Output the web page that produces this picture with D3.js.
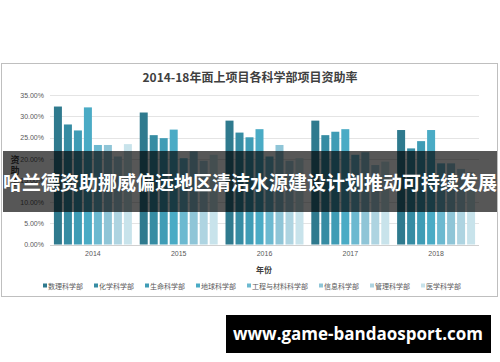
<!DOCTYPE html>
<html>
<head>
<meta charset="utf-8">
<script src="https://cdn.jsdelivr.net/npm/d3@7"></script>
<style>
  html, body { margin: 0; padding: 0; background: #fff; }
  svg { display: block; }
</style>
</head>
<body>
<div id="chart"></div>
<script>
// data (percent)
var years = ["2014", "2015", "2016", "2017", "2018"];
var depts = ["数理科学部", "化学科学部", "生命科学部", "地球科学部", "工程与材料科学部", "信息科学部", "管理科学部", "医学科学部"];
var mathPhys = [32.3, 30.9, 29.0, 29.0, 26.8];
var chem = [28.1, 25.6, 26.2, 25.6, 22.5];
var life = [26.7, 24.9, 25.1, 26.4, 24.2];
var earth = [32.1, 26.9, 27.0, 27.0, 26.8];
var engMat = [23.3, 20.2, 20.6, 21.0, 19.0];
var info = [23.3, 21.8, 23.3, 21.6, 19.0];
var mgmt = [20.6, 19.6, 19.6, 18.6, 17.7];
var med = [23.5, 21.0, 20.2, 19.4, 16.9];
var yTicks = [0, 5, 10, 15, 20, 25, 30, 35];
var colors = ["#2f7a8e", "#368ca3", "#3f9cb5", "#4aabc5", "#6cb9d0", "#8fc5d7", "#aed4e1", "#c8e3eb"];

(function () {
  "use strict";
  var seriesVals = [mathPhys, chem, life, earth, engMat, info, mgmt, med];

  var W = 500, H = 362;
  var svg = d3.select("#chart").append("svg")
    .attr("width", W)
    .attr("height", H);

  var cjk = "'Noto Sans CJK SC', 'Noto Sans', sans-serif";

  // chart frame
  svg.append("rect")
    .attr("x", 1.5).attr("y", 63.5)
    .attr("width", 496).attr("height", 233)
    .attr("fill", "#fff")
    .attr("stroke", "#bfbfbf")
    .attr("stroke-width", 1);

  svg.append("text")
    .attr("x", 250).attr("y", 81.5)
    .attr("text-anchor", "middle")
    .attr("font-family", cjk)
    .attr("font-weight", "bold")
    .attr("font-size", "12px")
    .attr("fill", "#404040")
    .text("2014-18年面上项目各科学部项目资助率");

  var plotLeft = 50, plotRight = 479, plotTop = 95, plotBottom = 244.5;

  var y = d3.scaleLinear().domain([0, 35]).range([plotBottom, plotTop]);
  var x0 = d3.scaleBand().domain(years).range([plotLeft, plotRight]).paddingInner(0.068).paddingOuter(0.034);
  var x1 = d3.scaleBand().domain(depts).range([0, x0.bandwidth()]).paddingInner(0.2).paddingOuter(0.1);

  // grid
  svg.append("g").selectAll("line")
    .data(yTicks)
    .enter().append("line")
    .attr("x1", plotLeft).attr("x2", plotRight)
    .attr("y1", function(d){ return Math.round(y(d)) + 0.5; })
    .attr("y2", function(d){ return Math.round(y(d)) + 0.5; })
    .attr("stroke", function(d){ return d == 0 ? "#d0d0d0" : "#e4e4e4"; })
    .attr("stroke-width", 1);

  var yAxis = d3.axisLeft(y).tickValues(yTicks).tickSize(0).tickPadding(6)
    .tickFormat(function(d){ return d.toFixed(2) + "%"; });
  var gy = svg.append("g").attr("transform", "translate(" + plotLeft + ",0)").call(yAxis);
  gy.select(".domain").remove();
  gy.selectAll("text")
    .attr("font-family", "'Liberation Sans', sans-serif")
    .attr("font-size", "7px")
    .attr("fill", "#595959");

  var xAxis = d3.axisBottom(x0).tickSize(0).tickPadding(7);
  var gx = svg.append("g").attr("transform", "translate(0," + plotBottom + ")").call(xAxis);
  gx.select(".domain").remove();
  gx.selectAll("text")
    .attr("font-family", "'Liberation Sans', sans-serif")
    .attr("font-size", "7px")
    .attr("fill", "#595959");

  // bars
  var rows = years.map(function(yr, i){
    return { year: yr, vals: depts.map(function(dp, j){ return { dept: dp, v: seriesVals[j][i], c: colors[j] }; }) };
  });

  var groups = svg.append("g").selectAll("g")
    .data(rows)
    .enter().append("g")
    .attr("transform", function(d){ return "translate(" + x0(d.year) + ",0)"; });

  groups.selectAll("rect")
    .data(function(d){ return d.vals; })
    .enter().append("rect")
    .attr("x", function(d){ return x1(d.dept); })
    .attr("y", function(d){ return y(d.v); })
    .attr("width", x1.bandwidth())
    .attr("height", function(d){ return plotBottom - y(d.v); })
    .attr("fill", function(d){ return d.c; });

  // axis titles
  var yt = svg.append("text")
    .attr("font-family", cjk)
    .attr("font-weight", "bold")
    .attr("font-size", "9px")
    .attr("fill", "#404040")
    .attr("text-anchor", "middle");
  ["资", "助", "率"].forEach(function(ch, i){
    yt.append("tspan").attr("x", 15).attr("y", 163 + i * 11).text(ch);
  });

  svg.append("text")
    .attr("x", 264).attr("y", 273)
    .attr("text-anchor", "middle")
    .attr("font-family", cjk)
    .attr("font-weight", "bold")
    .attr("font-size", "8px")
    .attr("fill", "#404040")
    .text("年份");

  // legend
  var lx = 43;
  var legend = svg.append("g");
  depts.forEach(function(dp, j){
    legend.append("rect")
      .attr("x", lx).attr("y", 283.5)
      .attr("width", 4).attr("height", 4)
      .attr("fill", colors[j]);
    var t = legend.append("text")
      .attr("x", lx + 5).attr("y", 288.5)
      .attr("font-family", cjk)
      .attr("font-size", "7px")
      .attr("fill", "#595959")
      .text(dp);
    lx += 5 + t.node().getComputedTextLength() + 11;
  });

  // overlay banner
  svg.append("rect")
    .attr("x", 3).attr("y", 151)
    .attr("width", 494).attr("height", 61)
    .attr("fill", "rgba(0,0,0,0.66)");

  svg.append("text")
    .attr("x", 250).attr("y", 190)
    .attr("text-anchor", "middle")
    .attr("font-family", cjk)
    .attr("font-weight", "bold")
    .attr("font-size", "19px")
    .attr("fill", "#fff")
    .text("哈兰德资助挪威偏远地区清洁水源建设计划推动可持续发展");

  // watermark
  svg.append("rect")
    .attr("x", 226).attr("y", 315)
    .attr("width", 265).attr("height", 38)
    .attr("fill", "#000");

  svg.append("text")
    .attr("x", 358).attr("y", 340)
    .attr("text-anchor", "middle")
    .attr("font-family", "'Open Sans', sans-serif")
    .attr("font-weight", "bold")
    .attr("font-size", "17px")
    .attr("fill", "#fff")
    .text("www.game-bandaosport.com");
}());
</script>
</body>
</html>
